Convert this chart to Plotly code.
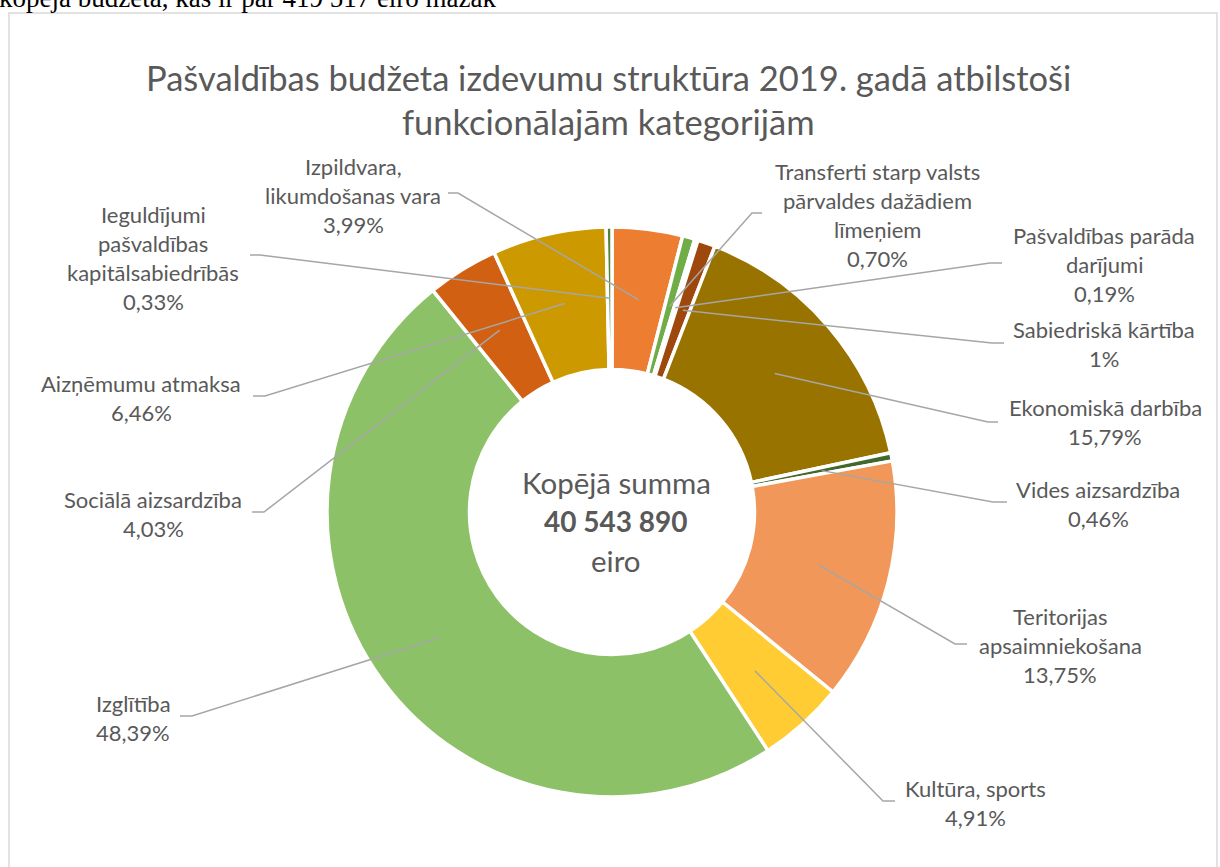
import math
import plotly.graph_objects as go

# ---------------- data ----------------
CATEGORIES = [
    "Izpildvara,\nlikumdošanas vara",
    "Transferti starp valsts\npārvaldes dažādiem\nlīmeņiem",
    "Pašvaldības parāda\ndarījumi",
    "Sabiedriskā kārtība",
    "Ekonomiskā darbība",
    "Vides aizsardzība",
    "Teritorijas\napsaimniekošana",
    "Kultūra, sports",
    "Izglītība",
    "Sociālā aizsardzība",
    "Aizņēmumu atmaksa",
    "Ieguldījumi\npašvaldības\nkapitālsabiedrībās",
]
SHARES = [3.99, 0.70, 0.19, 1.00, 15.79, 0.46, 13.75, 4.91, 48.39, 4.03, 6.46, 0.33]
TOTAL_LABEL = "40 543 890"
TITLE_LINES = ["Pašvaldības budžeta izdevumu struktūra 2019. gadā atbilstoši",
               "funkcionālajām kategorijām"]
CENTER_LINES = ["Kopējā summa", TOTAL_LABEL, "eiro"]
TOP_TEXT = "kopējā budžeta, kas ir par 419 517 eiro mazāk"

# ---------------- styles / layout ----------------
W, H = 1220, 867
CX, CY, R = 612, 512, 285
HOLE = 0.5
COLORS = ["#ED7D31", "#70AD47", "#A5A5A5", "#9E480E", "#997300", "#43682B",
          "#F1975A", "#FFCD33", "#8CC168", "#D26012", "#CC9A00", "#548235"]
TEXT_COLOR = "#595959"
LINE_COLOR = "#A6A6A6"
FONT = "Lato, 'Open Sans', sans-serif"
LABEL_SIZE = 22
LINE_GAP = 29
# label block centre (x, y) in pixels
LABEL_POS = [(353, 195), (877, 215), (1104, 264), (1104, 344), (1105, 422),
             (1098, 504), (1060, 645), (975, 803), (133, 718), (153, 514),
             (141, 398), (153, 258)]
# leader stub: (x near pie, x near label, y)
STUBS = [(458, 448, 193), (752, 762, 213), (990, 1002, 263), (992, 1004, 343),
         (988, 998, 422), (993, 1007, 502), (955, 967, 644), (883, 895, 801),
         (192, 180, 716), (264, 252, 512), (265, 253, 396), (260, 250, 255)]


def pct_text(v):
    s = str(int(v)) if float(v).is_integer() else f"{v:.2f}"
    return s.replace(".", ",") + "%"


fig = go.Figure()

fig.add_trace(go.Pie(
    values=SHARES,
    labels=[c.replace("\n", " ") for c in CATEGORIES],
    sort=False,
    direction="clockwise",
    rotation=0,
    hole=HOLE,
    marker=dict(colors=COLORS, line=dict(color="white", width=3.5)),
    textinfo="none",
    hoverinfo="label+percent",
    showlegend=False,
    domain=dict(x=[(CX - R) / W, (CX + R) / W],
                y=[1 - (CY + R) / H, 1 - (CY - R) / H]),
))

# slice mid points (mid radius, mid angle) computed from the data
total = sum(SHARES)
mid_x, mid_y = [], []
acc = 0.0
r_mid = R * (1 + HOLE) / 2
for v in SHARES:
    ang = 2 * math.pi * (acc + v / 2) / total
    mid_x.append(CX + r_mid * math.sin(ang))
    mid_y.append(CY - r_mid * math.cos(ang))
    acc += v

fig.add_trace(go.Scatter(x=mid_x, y=mid_y, mode="markers",
                         marker=dict(size=1, opacity=0),
                         hoverinfo="skip", showlegend=False))

shapes = []
# chart frame
shapes.append(dict(type="rect", xref="x", yref="y", x0=9, x1=1217, y0=13, y1=880,
                   line=dict(color="#D9D9D9", width=1.5), layer="below"))
for i in range(len(SHARES)):
    xn, xf, ys = STUBS[i]
    path = f"M {mid_x[i]:.2f},{mid_y[i]:.2f} L {xn},{ys} L {xf},{ys}"
    shapes.append(dict(type="path", xref="x", yref="y", path=path,
                       line=dict(color=LINE_COLOR, width=1.5), layer="above"))

annotations = []
for i, cat in enumerate(CATEGORIES):
    lines = cat.split("\n") + [pct_text(SHARES[i])]
    cx, cy = LABEL_POS[i]
    n = len(lines)
    for k, t in enumerate(lines):
        yy = cy + (k - (n - 1) / 2) * LINE_GAP
        annotations.append(dict(x=cx, y=yy, xref="x", yref="y", text=t,
                                showarrow=False, xanchor="center", yanchor="middle",
                                font=dict(family=FONT, size=LABEL_SIZE, color=TEXT_COLOR)))

# title
for k, t in enumerate(TITLE_LINES):
    annotations.append(dict(x=608, y=77 + k * 44, xref="x", yref="y", text=t,
                            showarrow=False, xanchor="center", yanchor="middle",
                            font=dict(family=FONT, size=34.5, color=TEXT_COLOR)))

# centre text
CENTER_SIZES = [29.5, 28, 29.5]
for k, t in enumerate(CENTER_LINES):
    txt = f"<b>{t}</b>" if k == 1 else t
    annotations.append(dict(x=616, y=482 + k * 39, xref="x", yref="y", text=txt,
                            showarrow=False, xanchor="center", yanchor="middle",
                            font=dict(family=FONT, size=CENTER_SIZES[k], color=TEXT_COLOR)))

# cut-off document text at the very top
annotations.append(dict(x=0, y=0, xref="x", yref="y", text=TOP_TEXT, showarrow=False,
                        xanchor="left", yanchor="middle", xshift=-3, yshift=2,
                        font=dict(family="'Liberation Serif', 'Times New Roman', serif",
                                  size=27, color="black")))

fig.update_layout(
    width=W, height=H,
    margin=dict(l=0, r=0, t=0, b=0),
    paper_bgcolor="white", plot_bgcolor="rgba(0,0,0,0)",
    xaxis=dict(range=[0, W], domain=[0, 1], visible=False, fixedrange=True),
    yaxis=dict(range=[H, 0], domain=[0, 1], visible=False, fixedrange=True),
    shapes=shapes,
    annotations=annotations,
)

fig.write_html("out.html", config={"displayModeBar": False},
               post_script="document.body.style.margin='0';")
